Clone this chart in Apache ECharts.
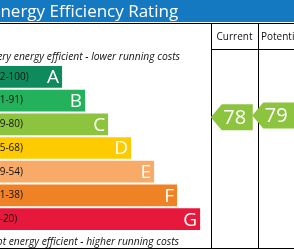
<!DOCTYPE html>
<html><head><meta charset="utf-8">
<script src="https://cdn.jsdelivr.net/npm/echarts@6/dist/echarts.min.js"></script>
<style>html,body{margin:0;padding:0;background:#fff}#c{width:294px;height:250px}</style>
</head><body><div id="c"></div>
<script>
const bandLetters = ['A','B','C','D','E','F','G'];
const bandRanges = ['(92-100)','(81-91)','(69-80)','(55-68)','(39-54)','(21-38)','(1-20)'];
const bandMin = [92,81,69,55,39,21,1];
const bandMax = [100,91,80,68,54,38,20];
const bandLengths = [27,37,47,57,67,77,87];
const bandColors = ['#0f8a5c','#23b15b','#8cc43f','#fdcb00','#f8ab69','#ef8224','#e8183c'];
const columns = ['Current','Potential'];
const ratings = [78,79];
const titleText = 'Energy Efficiency Rating';
const topNote = 'Very energy efficient - lower running costs';
const bottomNote = 'Not energy efficient - higher running costs';

const FONT = '"Open Sans", "Noto Sans", sans-serif';

function bandOf(score){
  for (let i=0;i<bandMin.length;i++){ if (score>=bandMin[i] && score<=bandMax[i]) return i; }
  return bandMin.length-1;
}
function scorePos(score){
  const i = bandOf(score);
  return i + (bandMax[i] + 0.5 - score) / (bandMax[i] - bandMin[i] + 1);
}

const bandData = bandLetters.map((l,i)=>[i, bandLengths[i]]);
const arrowData = ratings.map((s,c)=>[c, scorePos(s), s, bandOf(s)]);

function renderBand(params, api){
  const i = api.value(0), len = api.value(1);
  const p0 = api.coord([0, i]);
  const p1 = api.coord([len, i+1]);
  const x0 = p0[0], x1 = p1[0], y0 = p0[1]+1, y1 = p1[1]-1;
  const cy = (y0+y1)/2;
  return {type:'group', children:[
    {type:'rect', shape:{x:x0, y:y0, width:x1-x0, height:y1-y0}, style:{fill:bandColors[i]}},
    {type:'text', style:{text:bandRanges[i], x:x0-9, y:cy, align:'left', verticalAlign:'middle', fill:'#111', font:'10px '+FONT}},
    {type:'text', style:{text:bandLetters[i], x:x1-3, y:cy+1, align:'right', verticalAlign:'middle', fill:'#fff', font:'19px '+FONT}}
  ]};
}
function renderArrow(params, api){
  const col = api.value(0), pos = api.value(1), score = api.value(2), bi = api.value(3);
  const c = api.coord([col, pos]);
  const cx = c[0], cy = c[1];
  const h = 26, hw = 21, tip = 11;
  const l = cx-hw, r = cx+hw;
  return {type:'group', children:[
    {type:'polygon', shape:{points:[[l,cy],[l+tip,cy-h/2],[r,cy-h/2],[r,cy+h/2],[l+tip,cy+h/2]]}, style:{fill:bandColors[bi]}},
    {type:'text', style:{text:String(score), x:cx+3, y:cy+1, align:'center', verticalAlign:'middle', fill:'#fff', font:'20px '+FONT}}
  ]};
}

const chart = echarts.init(document.getElementById('c'), null, {renderer:'canvas'});
chart.setOption({
  animation:false,
  grid:[
    {left:0, width:230, top:65, height:166},
    {left:211, width:94, top:65, height:166}
  ],
  xAxis:[
    {type:'value', gridIndex:0, min:0, max:100, show:false},
    {type:'category', gridIndex:1, data:columns, show:false}
  ],
  yAxis:[
    {type:'value', gridIndex:0, min:0, max:7, inverse:true, show:false},
    {type:'value', gridIndex:1, min:0, max:7, inverse:true, show:false}
  ],
  series:[
    {type:'custom', xAxisIndex:0, yAxisIndex:0, data:bandData, renderItem:renderBand},
    {type:'custom', xAxisIndex:1, yAxisIndex:1, data:arrowData, renderItem:renderArrow}
  ],
  graphic:{elements:[
    {type:'rect', shape:{x:0,y:0,width:294,height:22}, style:{fill:'#1479c0'}},
    {type:'text', x:-9, y:12, style:{text:titleText, align:'left', verticalAlign:'middle', fill:'#fff', font:'17px '+FONT}},
    {type:'line', shape:{x1:0,y1:23.5,x2:294,y2:23.5}, style:{stroke:'#000', lineWidth:1}},
    {type:'line', shape:{x1:211,y1:49.5,x2:294,y2:49.5}, style:{stroke:'#000', lineWidth:1}},
    {type:'line', shape:{x1:0,y1:248.5,x2:294,y2:248.5}, style:{stroke:'#000', lineWidth:1}},
    {type:'line', shape:{x1:211.5,y1:24,x2:211.5,y2:249}, style:{stroke:'#000', lineWidth:1}},
    {type:'line', shape:{x1:258.5,y1:24,x2:258.5,y2:249}, style:{stroke:'#000', lineWidth:1}},
    {type:'text', x:234.5, y:37, style:{text:columns[0], align:'center', verticalAlign:'middle', fill:'#111', font:'10px '+FONT}},
    {type:'text', x:261, y:37, style:{text:columns[1], align:'left', verticalAlign:'middle', fill:'#111', font:'10px '+FONT}},
    {type:'text', x:180, y:57, style:{text:topNote, align:'right', verticalAlign:'middle', fill:'#111', font:'italic 10.3px '+FONT}},
    {type:'text', x:179, y:242, style:{text:bottomNote, align:'right', verticalAlign:'middle', fill:'#111', font:'italic 10.3px '+FONT}}
  ]}
});
</script></body></html>
